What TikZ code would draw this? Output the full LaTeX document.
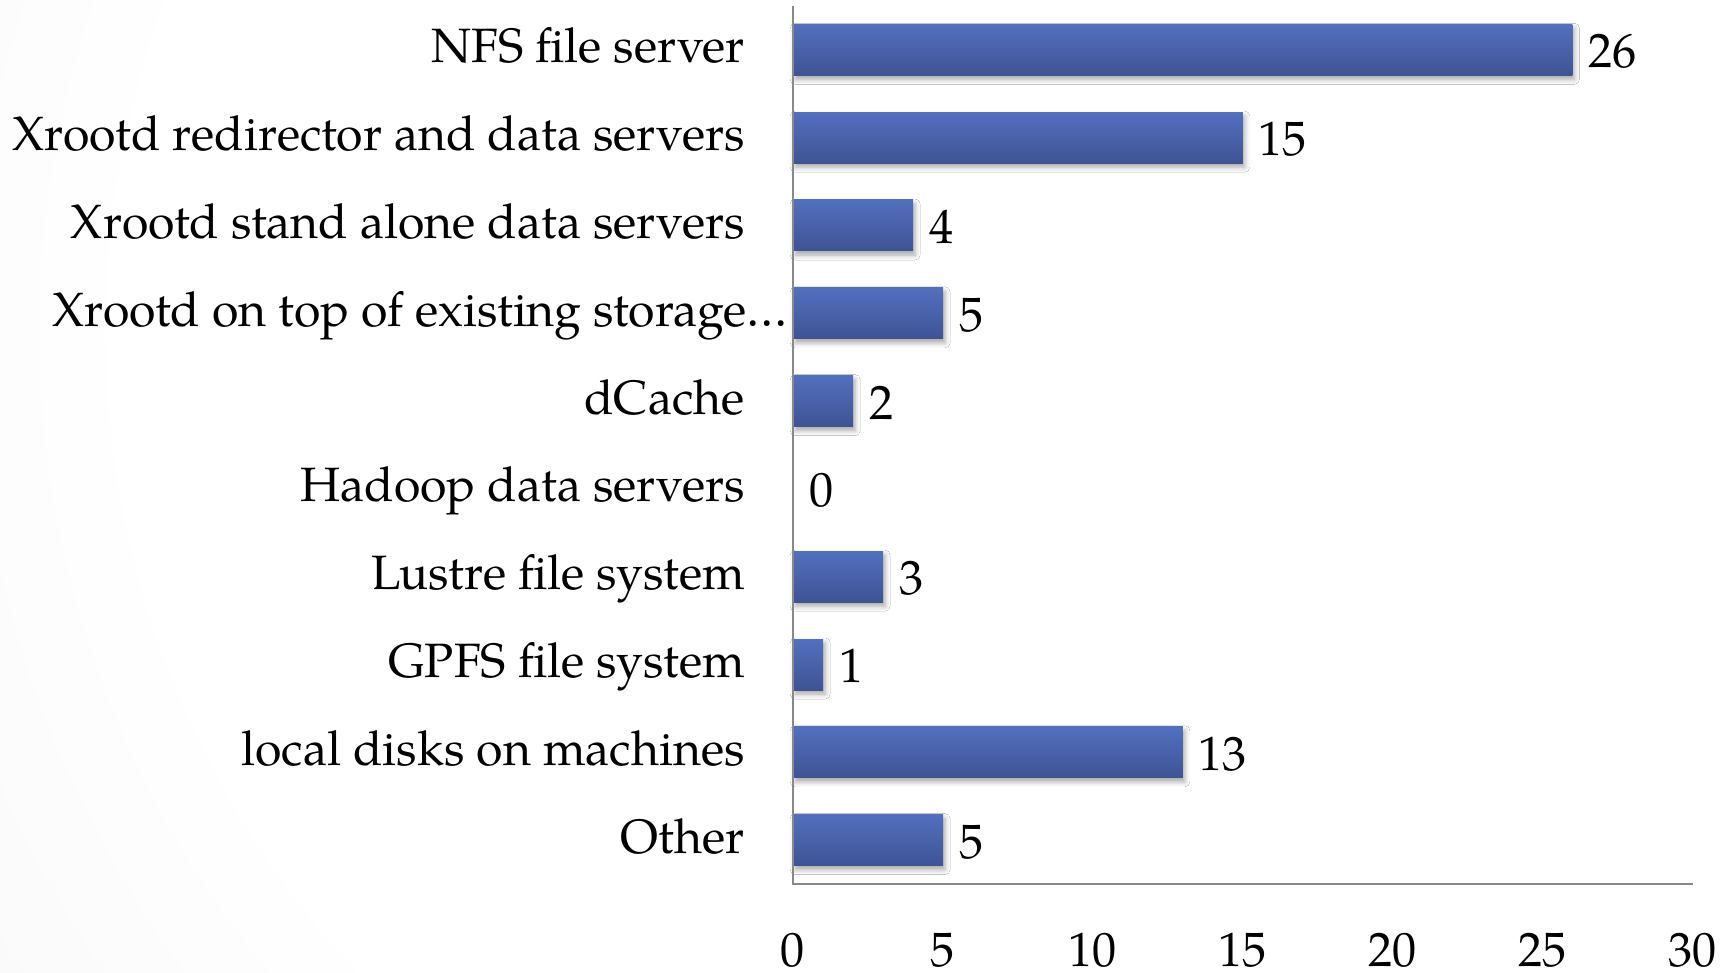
\documentclass[tikz,border=0pt]{standalone}
\usepackage{fontspec}
\setmainfont{TeX Gyre Pagella}
\usetikzlibrary{shadows.blur}
\definecolor{bartop}{HTML}{5270BF}
\definecolor{barbot}{HTML}{3F5393}
\definecolor{axisgray}{HTML}{898989}
\pgfdeclareradialshading{bgshade}{\pgfpoint{0bp}{0bp}}{color(0bp)=(white); color(12bp)=(white); color(32bp)=(black!9); color(50bp)=(black!9)}
\tikzset{
  catlabel/.style={inner sep=0pt, text=black},
  vallabel/.style={inner sep=0pt, text=black},
  ticklabel/.style={inner sep=0pt, text=black},
  barbox/.style={rectangle, inner sep=0pt, draw=none, minimum height=51pt,
    top color=bartop, bottom color=barbot,
    blur shadow={shadow xshift=2pt, shadow yshift=-4pt, shadow blur radius=5pt, shadow opacity=35}},
  axisline/.style={draw=axisgray, line width=2pt}
}
\begin{document}
\begin{tikzpicture}[x=1pt, y=-1pt, font=\fontsize{48.2}{56}\selectfont]
\useasboundingbox (0,0) rectangle (1732,973);
\begin{scope}
  \clip (0,0) rectangle (1732,973);
  \shade[shading=bgshade] (1050,330) circle (1900);
\end{scope}
\foreach \lab/\v [count=\i from 0, evaluate=\i as \yc using 49.9+87.8*\i] in
  {NFS file server/26,
   Xrootd redirector and data servers/15,
   Xrootd stand alone data servers/4,
   Xrootd on top of existing storage…/5,
   dCache/2,
   Hadoop data servers/0,
   Lustre file system/3,
   GPFS file system/1,
   local disks on machines/13,
   Other/5} {
  \pgfmathsetmacro{\xr}{\i==3 ? 788 : 745}
  \node[catlabel, anchor=base east] (c\i) at (\xr, \yc+13) {\lab};
  \ifnum\v>0
    \node[barbox, minimum width=\v*29.97, anchor=west] (b\i) at (793,\yc) {};
  \fi
  \node[vallabel, anchor=base west] (v\i) at (793+\v*29.97+16, \yc+18) {\v};
}
\coordinate (ytop) at (793,6);
\coordinate (origin) at (793,884);
\coordinate (xend) at (1693,884);
\draw[axisline] (ytop) -- (origin) -- (xend);
\foreach \t [count=\k from 0] in {0,5,10,15,20,25,30}
  \node[ticklabel, anchor=base] (t\k) at (793+\t*29.97, 966) {\t};
\end{tikzpicture}
\end{document}
